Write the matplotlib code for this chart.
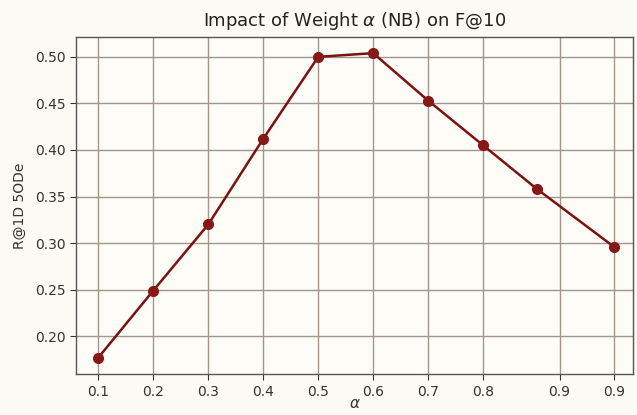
import matplotlib
matplotlib.use('Agg')
import matplotlib.pyplot as plt

# alpha positions as drawn (last two ticks are both labelled 0.9 in the source)
alpha = [0.1, 0.2, 0.3, 0.4, 0.5, 0.6, 0.7, 0.8, 0.898, 1.038]
score = [0.177, 0.249, 0.320, 0.412, 0.500, 0.504, 0.453, 0.405, 0.358, 0.296]
tick_pos = [0.1, 0.2, 0.3, 0.4, 0.5, 0.6, 0.7, 0.8, 0.939, 1.038]
tick_labels = ['0.1', '0.2', '0.3', '0.4', '0.5', '0.6', '0.7', '0.8', '0.9', '0.9']
y_ticks = [0.20, 0.25, 0.30, 0.35, 0.40, 0.45, 0.50]

fig = plt.figure(figsize=(6.37, 4.15), dpi=100, facecolor='#fbfaf5')
ax = fig.add_axes([0.119, 0.098, 0.875, 0.813])
ax.set_facecolor('#fdfcf7')

ax.plot(alpha, score, color='#7a1212', lw=1.8, marker='o', ms=7,
        markerfacecolor='#861818', markeredgecolor='#861818', zorder=3)

ax.set_xlim(0.059, 1.073)
ax.set_ylim(0.159, 0.5214)
ax.set_xticks(tick_pos)
ax.set_xticklabels(tick_labels)
ax.set_yticks(y_ticks)
ax.set_yticklabels(['%.2f' % v for v in y_ticks])

ax.grid(True, color='#a3948c', lw=1.0)
ax.set_axisbelow(True)
for s in ax.spines.values():
    s.set_color('#555555')
    s.set_linewidth(1.0)
ax.tick_params(colors='#333333', labelsize=10, length=4, width=0.8)
for lbl in ax.get_xticklabels() + ax.get_yticklabels():
    lbl.set_color('#333333')

ax.set_title(r'Impact of Weight $\alpha$ (NB) on F@10', fontsize=13, color='#222222', pad=8)
ax.set_xlabel(r'$\alpha$', fontsize=11, color='#333333', labelpad=-2)
ax.set_ylabel('R@1D 5ODe', fontsize=10, color='#333333', labelpad=6)

fig.savefig('out.png', dpi=100, facecolor=fig.get_facecolor())
